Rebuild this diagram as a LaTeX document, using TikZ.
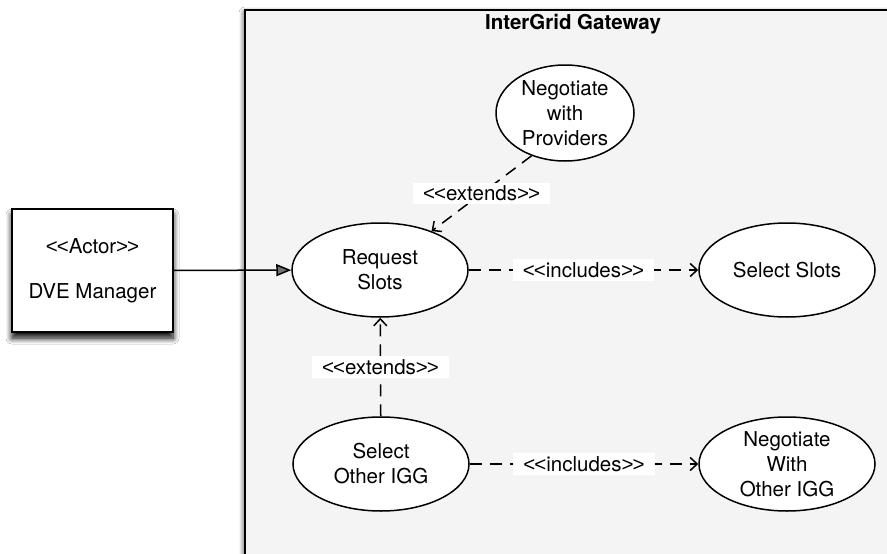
\documentclass[tikz,border=0pt]{standalone}
\usepackage{fontspec}
\setmainfont{TeX Gyre Heros}
\newfontfamily\brkfont{Liberation Sans}
\usetikzlibrary{arrows.meta,shapes.geometric,shadows.blur}

\definecolor{gwfill}{HTML}{F4F4F4}
% stereotype brackets
\newcommand{\stlt}{{\brkfont<\kern-1pt<}}
\newcommand{\stgt}{{\brkfont>\kern-1pt>}}

\begin{document}
\begin{tikzpicture}[x=1pt,y=-1pt,
  every node/.style={font=\fontsize{20.5}{25}\selectfont},
  usecase/.style={ellipse, draw, line width=1.5pt, fill=white,
    minimum width=176pt, minimum height=94pt, align=center,
    inner xsep=0pt, inner ysep=-4pt},
  actorbox/.style={rectangle, draw, line width=1.6pt, fill=white,
    minimum width=161pt, minimum height=123pt, align=center,
    blur shadow={shadow xshift=0pt, shadow yshift=-6pt,
      shadow blur radius=6pt, shadow blur steps=8, shadow opacity=100}},
  assoc/.style={line width=1.5pt, -{Triangle[length=15pt,width=12pt]}},
  dep/.style={line width=1.5pt, dash pattern=on 12pt off 8pt,
    -{Straight Barb[length=7pt,width=13pt,line width=1.5pt]}},
  stereo/.style={fill=white, inner xsep=10pt, inner ysep=3pt},
]
  \useasboundingbox (0,0) rectangle (887,554);
  \clip (0,0) rectangle (887,554);
  \fill[white] (0,0) rectangle (887,554);

  % system boundary
  \draw[fill=gwfill, line width=1.6pt,
    blur shadow={shadow xshift=0pt, shadow yshift=-3pt,
      shadow blur radius=6pt, shadow blur steps=8, shadow opacity=90}]
    (245,10) rectangle (910,580);
  \node[font=\fontsize{20.5}{25}\selectfont\bfseries, anchor=base]
    (title) at (573,30) {InterGrid Gateway};

  % actor
  \node[actorbox] (actor) at (92.5,270.5) {\stlt Actor\stgt\\[20pt]DVE Manager};

  % use cases
  \node[usecase, minimum width=138pt, minimum height=96pt] (nwp) at (565,113) {Negotiate\\with\\Providers};
  \node[usecase] (rs)   at (380,270) {Request\\Slots};
  \node[usecase] (ss)   at (787,270) {Select Slots};
  \node[usecase] (soi)  at (381,464) {Select\\Other IGG};
  \node[usecase] (nwoi) at (787,464) {Negotiate\\With\\Other IGG};

  % relations
  \draw[assoc] (actor) -- (rs);
  \draw[dep] (rs) -- node[stereo] (inc1) {\stlt includes\stgt} (ss);
  \draw[dep] (soi) -- node[stereo] (inc2) {\stlt includes\stgt} (nwoi);
  \draw[dep] (nwp.232) -- node[stereo] (ext1) {\stlt extends\stgt} (rs);
  \draw[dep] (soi) -- node[stereo] (ext2) {\stlt extends\stgt} (rs);
\end{tikzpicture}
\end{document}
